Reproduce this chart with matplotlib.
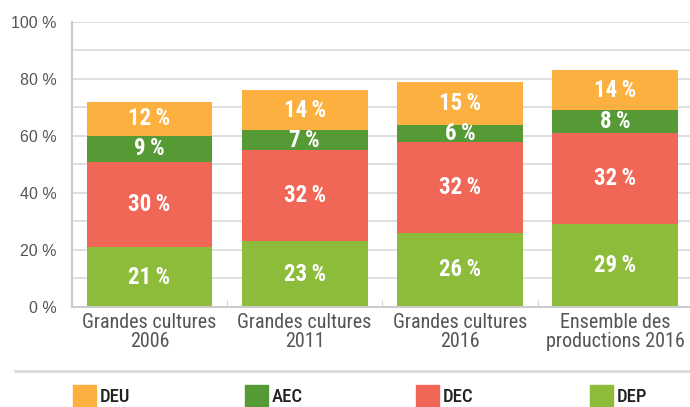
import numpy as np
import matplotlib.pyplot as plt
from matplotlib.patches import Rectangle
from matplotlib.lines import Line2D

categories = ["Grandes cultures\n2006", "Grandes cultures\n2011",
              "Grandes cultures\n2016", "Ensemble des\nproductions 2016"]
series = ["DEP", "DEC", "AEC", "DEU"]
dep = [21, 23, 26, 29]
dec = [30, 32, 32, 32]
aec = [9, 7, 6, 8]
deu = [12, 14, 15, 14]
values = [dep, dec, aec, deu]
colors = ["#8dbb3a", "#f06657", "#559a35", "#fbb040"]
yticks = [0, 20, 40, 60, 80, 100]

narrow = ["Roboto Condensed", "DejaVu Sans"]
plt.rcParams['font.family'] = narrow

fig = plt.figure(figsize=(6.9, 4.07), dpi=100)
ax = fig.add_axes([0.104, 0.2457, 0.9, 0.7003])

x = np.arange(len(categories))
bottom = np.zeros(len(categories))
for name, vals, col in zip(series, values, colors):
    ax.bar(x, vals, 0.81, bottom=bottom, color=col, zorder=2)
    for xi, b, v in zip(x, bottom, vals):
        ax.text(xi, b + v / 2, f"{v}\u2009%", ha='center', va='center',
                color='white', fontsize=16.5, fontweight='bold', zorder=3)
    bottom += vals

ax.set_xlim(-0.5, 3.5)
ax.set_ylim(0, 100)
ax.set_yticks(yticks)
ax.set_yticklabels([f"{t} %" for t in yticks], fontsize=11.5, color='#555555',
                   family=["Liberation Sans", "DejaVu Sans"])
ax.set_yticks(np.arange(0, 101, 10), minor=True)
ax.grid(axis='y', which='both', color='#d9d9d9', lw=1.2, zorder=0)
ax.tick_params(axis='y', which='both', length=0, pad=11)
ax.set_xticks(x)
ax.set_xticklabels(categories, fontsize=14.5, color='#555555', linespacing=1.05)
ax.tick_params(axis='x', which='major', length=0, pad=4)
ax.set_xticks([0.5, 1.5, 2.5], minor=True)
ax.tick_params(axis='x', which='minor', direction='in', length=5, color='#cccccc')
for s in ['top', 'right']:
    ax.spines[s].set_visible(False)
for s in ['left', 'bottom']:
    ax.spines[s].set_color('#cccccc')
    ax.spines[s].set_linewidth(1.5)

# separator line above the legend
fig.add_artist(Line2D([15 / 690, 1], [1 - 371 / 407] * 2, color='#dcdcdc', lw=2))

# legend
leg_names = ["DEU", "AEC", "DEC", "DEP"]
leg_colors = ["#fbb040", "#559a35", "#f06657", "#8dbb3a"]
leg_x = [73, 245, 416, 590]
for name, col, lx in zip(leg_names, leg_colors, leg_x):
    fig.add_artist(Rectangle((lx / 690, 0), 23 / 690, 22 / 407, color=col,
                             transform=fig.transFigure))
    fig.text((lx + 27) / 690, 1 - 397 / 407, name, fontsize=13.5, color='#222222',
             va='center', ha='left', fontweight='medium')

fig.savefig('out.png', dpi=100)
